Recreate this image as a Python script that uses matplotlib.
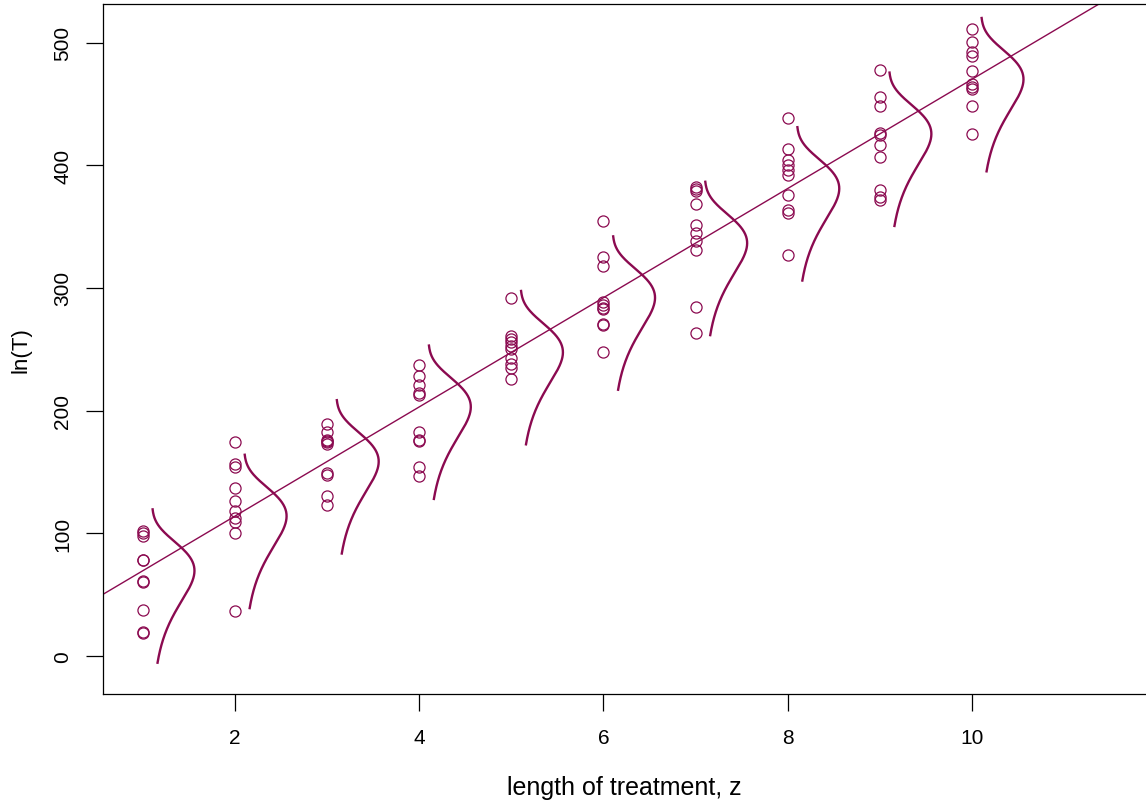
import numpy as np
import matplotlib
matplotlib.use("Agg")
from matplotlib import pyplot as plt

plt.rcParams['font.family'] = ['Liberation Sans', 'DejaVu Sans']

z_levels = [1, 2, 3, 4, 5, 6, 7, 8, 9, 10]
y1 = [102.2, 100.1, 98.1, 78.6, 78.0, 61.4, 60.1, 37.8, 19.2, 18.6]
y2 = [174.8, 156.6, 153.9, 137.0, 126.7, 118.5, 112.3, 109.5, 100.3, 37.0]
y3 = [189.2, 182.4, 176.4, 175.5, 174.3, 172.4, 149.3, 147.1, 130.0, 123.2]
y4 = [236.8, 228.0, 221.0, 214.0, 212.3, 182.5, 176.0, 175.0, 154.0, 147.0]
y5 = [292.0, 261.0, 258.5, 256.0, 253.0, 250.0, 243.0, 238.0, 235.0, 225.5]
y6 = [354.2, 325.2, 317.8, 288.5, 285.7, 284.0, 283.0, 270.8, 270.0, 247.7]
y7 = [382.5, 381.0, 379.0, 368.0, 351.5, 345.0, 338.0, 331.0, 284.5, 263.0]
y8 = [438.6, 413.5, 404.0, 399.9, 395.8, 391.8, 375.4, 363.2, 361.3, 326.5]
y9 = [477.4, 455.7, 448.4, 426.3, 424.4, 416.2, 406.8, 379.5, 374.1, 371.4]
y10 = [510.9, 500.6, 492.4, 489.1, 476.9, 466.6, 463.9, 461.9, 448.0, 425.2]
groups = [y1, y2, y3, y4, y5, y6, y7, y8, y9, y10]

# fitted line and extreme-value error density
intercept = 25.0
slope = 44.5
sigma = 25.0

col = "#8B0A50"

fig = plt.figure(figsize=(11.46, 8.04), dpi=100)
ax = fig.add_axes([103 / 1146, 1 - 695 / 804, 1 - 103 / 1146, (695 - 5) / 804])

for z, ys in zip(z_levels, groups):
    ax.plot([z] * len(ys), ys, "o", mfc="none", mec=col, ms=8, mew=0.9, ls="none")

xx = np.array([0.0, 13.0])
ax.plot(xx, intercept + slope * xx, "-", color=col, lw=1.0)

for z in z_levels:
    mu = intercept + slope * z
    w = np.linspace(-3, 2, 200)
    dens = np.exp(w - np.exp(w) + 1)
    ax.plot(z + 0.1 + 0.46 * dens, mu + sigma * w, "-", color=col, lw=1.7)

ax.set_xlim(0.567, 11.89)
ax.set_ylim(-31.0, 531.4)
ax.set_xticks([2, 4, 6, 8, 10])
ax.set_yticks([0, 100, 200, 300, 400, 500])
ax.set_yticklabels(["0", "100", "200", "300", "400", "500"], rotation=90, va="center")
ax.tick_params(direction="out", length=12, width=0.9, labelsize=15)
ax.tick_params(axis="x", pad=12.5)
ax.tick_params(axis="y", pad=10)
ax.spines["right"].set_visible(False)
for s in ["left", "bottom", "top"]:
    ax.spines[s].set_linewidth(0.9)
ax.set_xlabel("length of treatment, z", fontsize=18, labelpad=20.5)
ax.set_ylabel("ln(T)", fontsize=16, labelpad=16)

fig.savefig("out.png", dpi=100)
